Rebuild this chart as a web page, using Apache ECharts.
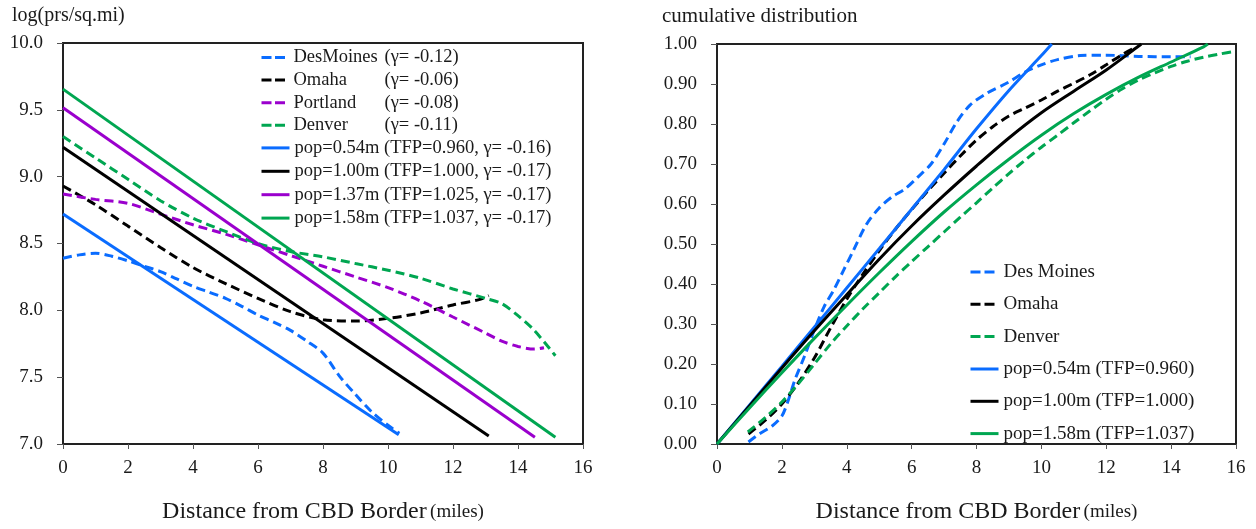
<!DOCTYPE html>
<html>
<head>
<meta charset="utf-8">
<script src="https://cdn.jsdelivr.net/npm/echarts@6/dist/echarts.min.js"></script>
<style>
  html, body { margin: 0; padding: 0; background: #fff; }
  #chart { width: 1256px; height: 529px; }
</style>
</head>
<body>
<div id="chart"></div>
<script>
// ---- Left panel: log population density by distance from CBD border ----
const densDesMoinesX = [0, 0.5, 1, 1.5, 2, 2.5, 3, 3.5, 4, 4.5, 5, 5.5, 6, 6.5, 7, 7.5, 8, 8.5, 9, 9.5, 10, 10.35];
const densDesMoinesY = [8.39, 8.415, 8.427, 8.405, 8.37, 8.33, 8.29, 8.235, 8.18, 8.135, 8.09, 8.03, 7.965, 7.91, 7.85, 7.77, 7.68, 7.51, 7.37, 7.24, 7.14, 7.08];
const densOmahaX = [0, 1, 2, 3, 4, 5, 6, 7, 8, 9, 10, 11, 12, 12.8, 13.1];
const densOmahaY = [8.93, 8.79, 8.63, 8.47, 8.32, 8.20, 8.09, 7.99, 7.93, 7.92, 7.94, 7.98, 8.04, 8.08, 8.11];
const densPortlandX = [0, 1, 2, 3, 4, 5, 6, 7, 8, 9, 10, 11, 12, 13, 13.5, 14, 14.5, 14.8];
const densPortlandY = [8.87, 8.83, 8.80, 8.72, 8.64, 8.57, 8.49, 8.41, 8.33, 8.25, 8.17, 8.07, 7.95, 7.83, 7.77, 7.73, 7.71, 7.72];
const densDenverX = [0, 1, 2, 3, 4, 5, 6, 7, 8, 9, 10, 11, 12, 13, 13.5, 14, 14.5, 15.15];
const densDenverY = [9.30, 9.14, 8.98, 8.82, 8.69, 8.59, 8.50, 8.44, 8.40, 8.35, 8.30, 8.24, 8.16, 8.09, 8.05, 7.96, 7.85, 7.66];

// model gradients (straight in logs): endpoints
const densPop054X = [0, 10.33];  const densPop054Y = [8.72, 7.07];
const densPop100X = [0, 13.1];   const densPop100Y = [9.22, 7.06];
const densPop137X = [0, 14.52];  const densPop137Y = [9.515, 7.05];
const densPop158X = [0, 15.15];  const densPop158Y = [9.655, 7.05];

const cityNames = ['DesMoines', 'Omaha', 'Portland', 'Denver'];
const cityGammas = ['-0.12', '-0.06', '-0.08', '-0.11'];
const modelNamesLeft = [
  'pop=0.54m (TFP=0.960, γ= -0.16)',
  'pop=1.00m (TFP=1.000, γ= -0.17)',
  'pop=1.37m (TFP=1.025, γ= -0.17)',
  'pop=1.58m (TFP=1.037, γ= -0.17)'
];

// ---- Right panel: cumulative distribution of population ----
const cdfDesMoinesX = [0.97, 1.3, 1.7, 2.0, 2.2, 2.4, 2.7, 3.0, 3.3, 3.6, 3.9, 4.2, 4.6, 5.0, 5.4, 5.8, 6.2, 6.6, 7.0, 7.4, 7.8, 8.3, 9.0, 9.5, 10.0, 10.5, 11.2, 12, 13, 14, 14.6];
const cdfDesMoinesY = [0.005, 0.025, 0.045, 0.07, 0.11, 0.16, 0.22, 0.285, 0.343, 0.385, 0.434, 0.483, 0.548, 0.59, 0.618, 0.638, 0.668, 0.70, 0.75, 0.806, 0.847, 0.876, 0.905, 0.93, 0.948, 0.961, 0.971, 0.972, 0.969, 0.968, 0.968];
const cdfOmahaX = [0.97, 1.5, 2.0, 2.5, 3.0, 3.5, 4.0, 4.5, 5.0, 5.5, 6.0, 6.5, 7.0, 7.5, 8.0, 8.5, 9.0, 9.5, 10.0, 10.5, 11.0, 11.5, 12.0, 12.5, 12.8];
const cdfOmahaY = [0.025, 0.06, 0.10, 0.152, 0.215, 0.29, 0.362, 0.425, 0.483, 0.537, 0.586, 0.633, 0.677, 0.72, 0.76, 0.793, 0.82, 0.84, 0.86, 0.882, 0.902, 0.923, 0.948, 0.974, 0.987];
const cdfDenverX = [0.95, 1.5, 2, 2.5, 3, 3.5, 4, 4.5, 5, 5.5, 6, 6.5, 7, 7.5, 8, 8.5, 9, 9.5, 10, 10.5, 11, 11.5, 12, 12.5, 13, 13.5, 14, 14.5, 15, 15.5, 16];
const cdfDenverY = [0.03, 0.067, 0.105, 0.15, 0.2, 0.25, 0.295, 0.338, 0.378, 0.418, 0.456, 0.493, 0.53, 0.567, 0.603, 0.64, 0.676, 0.71, 0.742, 0.772, 0.803, 0.833, 0.862, 0.888, 0.91, 0.928, 0.944, 0.957, 0.967, 0.975, 0.982];

const cdfPop054X = [0, 1, 2, 3, 4, 5, 6, 7, 8, 9, 10, 10.32];
const cdfPop054Y = [0, 0.097, 0.194, 0.292, 0.39, 0.488, 0.587, 0.686, 0.788, 0.884, 0.971, 1.0];
const cdfPop100X = [0, 1, 2, 3, 4, 5, 6, 7, 8, 9, 10, 11, 12, 13, 13.08];
const cdfPop100Y = [0, 0.095, 0.19, 0.283, 0.373, 0.462, 0.545, 0.622, 0.695, 0.765, 0.828, 0.882, 0.935, 0.995, 1.0];
const cdfPop158X = [0, 1, 2, 3, 4, 5, 6, 7, 8, 9, 10, 11, 12, 13, 14, 15, 15.13];
const cdfPop158Y = [0, 0.09, 0.178, 0.264, 0.347, 0.428, 0.506, 0.58, 0.648, 0.712, 0.772, 0.826, 0.874, 0.917, 0.955, 0.993, 1.0];

const cityNamesRight = ['Des Moines', 'Omaha', 'Denver'];
const modelNamesRight = ['pop=0.54m (TFP=0.960)', 'pop=1.00m (TFP=1.000)', 'pop=1.58m (TFP=1.037)'];

// ---- styling ----
const FONT = '"Liberation Serif", "DejaVu Serif", serif';
const TEXT = '#1a1a1a';
const BLUE = '#0a6cff', BLACK = '#000000', PURPLE = '#9a00cd', GREEN = '#00a651';
const DASH = [9, 5];

const zip = (xs, ys) => xs.map((x, i) => [x, ys[i]]);

function lineSeries(name, xs, ys, color, dashed, gridIdx, smooth) {
  return {
    type: 'line', name, xAxisIndex: gridIdx, yAxisIndex: gridIdx,
    data: zip(xs, ys), symbol: 'none', smooth: smooth,
    lineStyle: { color, width: 3, type: dashed ? DASH : 'solid', cap: 'butt' },
    itemStyle: { color }, emphasis: { disabled: true }, animation: false
  };
}

function xAxisCfg(gridIndex) {
  return {
    type: 'value', gridIndex, min: 0, max: 16, interval: 2,
    axisLine: { show: true, lineStyle: { color: '#222', width: 2 } },
    axisTick: { show: true, length: 5, lineStyle: { color: '#555', width: 1 } },
    axisLabel: { fontFamily: FONT, fontSize: 19, color: TEXT, margin: 15 },
    splitLine: { show: false },
    name: '{a|Distance from CBD Border} {b|(miles)}',
    nameLocation: 'middle', nameGap: 56,
    nameTextStyle: {
      rich: {
        a: { fontFamily: FONT, fontSize: 24, color: TEXT },
        b: { fontFamily: FONT, fontSize: 19, color: TEXT }
      }
    }
  };
}

function yAxisCfg(gridIndex, min, max, interval, decimals) {
  return {
    type: 'value', gridIndex, min, max, interval,
    axisLine: { show: true, lineStyle: { color: '#222', width: 2 } },
    axisTick: { show: true, length: 6, lineStyle: { color: '#555', width: 1 } },
    axisLabel: { fontFamily: FONT, fontSize: 19, color: TEXT, margin: 20,
                 formatter: v => v.toFixed(decimals) },
    splitLine: { show: false }
  };
}

function legendCfg(left, top, names, itemWidth, gap, fontSize, dash, formatter, rich) {
  const cfg = {
    orient: 'vertical', left, top, data: names, padding: 0,
    itemWidth, itemHeight: 14, itemGap: gap,
    selectedMode: false,
    itemStyle: { color: 'rgba(0,0,0,0)', borderWidth: 0, opacity: 0 },
    lineStyle: { width: 3, type: dash || 'solid' },
    textStyle: { fontFamily: FONT, fontSize, color: TEXT, lineHeight: fontSize }
  };
  if (formatter) cfg.formatter = formatter;
  if (rich) cfg.textStyle.rich = rich;
  return cfg;
}

const cityLegendRich = {
  n: { fontFamily: FONT, fontSize: 18.5, color: TEXT, width: 91, lineHeight: 18 },
  g: { fontFamily: FONT, fontSize: 18.5, color: TEXT, lineHeight: 18 }
};

const option = {
  backgroundColor: '#fff',
  animation: false,
  title: [
    { text: 'log(prs/sq.mi)', left: 7, top: 1,
      textStyle: { fontFamily: FONT, fontSize: 20, fontWeight: 'normal', color: TEXT } },
    { text: 'cumulative distribution', left: 657, top: 1,
      textStyle: { fontFamily: FONT, fontSize: 21, fontWeight: 'normal', color: TEXT } }
  ],
  grid: [
    { left: 63, top: 43, width: 520, height: 407, show: true, borderColor: '#222', borderWidth: 2, backgroundColor: 'transparent' },
    { left: 717, top: 44, width: 519, height: 404, show: true, borderColor: '#222', borderWidth: 2, backgroundColor: 'transparent' }
  ],
  xAxis: [xAxisCfg(0), xAxisCfg(1)],
  yAxis: [yAxisCfg(0, 7, 10, 0.5, 1), yAxisCfg(1, 0, 1, 0.1, 2)],
  legend: [
    legendCfg(260, 48, cityNames, 27, 3.6, 18.5, [10, 3.5],
      name => `{n|${name}}{g|(γ= ${cityGammas[cityNames.indexOf(name)]})}`, cityLegendRich),
    legendCfg(260, 138.4, modelNamesLeft, 28, 4.4, 18.5),
    legendCfg(969, 262.5, cityNamesRight, 28, 13.3, 19, [10, 4]),
    legendCfg(969, 359.5, modelNamesRight, 28, 13.3, 19)
  ],
  series: [
    // left panel
    lineSeries('DesMoines', densDesMoinesX, densDesMoinesY, BLUE, true, 0, 0.3),
    lineSeries('Omaha', densOmahaX, densOmahaY, BLACK, true, 0, 0.3),
    lineSeries('Portland', densPortlandX, densPortlandY, PURPLE, true, 0, 0.3),
    lineSeries('Denver', densDenverX, densDenverY, GREEN, true, 0, 0.3),
    lineSeries(modelNamesLeft[0], densPop054X, densPop054Y, BLUE, false, 0, false),
    lineSeries(modelNamesLeft[1], densPop100X, densPop100Y, BLACK, false, 0, false),
    lineSeries(modelNamesLeft[2], densPop137X, densPop137Y, PURPLE, false, 0, false),
    lineSeries(modelNamesLeft[3], densPop158X, densPop158Y, GREEN, false, 0, false),
    // right panel
    lineSeries('Des Moines', cdfDesMoinesX, cdfDesMoinesY, BLUE, true, 1, 0.3),
    lineSeries('Omaha', cdfOmahaX, cdfOmahaY, BLACK, true, 1, 0.3),
    lineSeries('Denver', cdfDenverX, cdfDenverY, GREEN, true, 1, 0.3),
    lineSeries(modelNamesRight[0], cdfPop054X, cdfPop054Y, BLUE, false, 1, 0.3),
    lineSeries(modelNamesRight[1], cdfPop100X, cdfPop100Y, BLACK, false, 1, 0.3),
    lineSeries(modelNamesRight[2], cdfPop158X, cdfPop158Y, GREEN, false, 1, 0.3)
  ]
};

const chart = echarts.init(document.getElementById('chart'), null, { renderer: 'canvas' });
chart.setOption(option);
</script>
</body>
</html>
